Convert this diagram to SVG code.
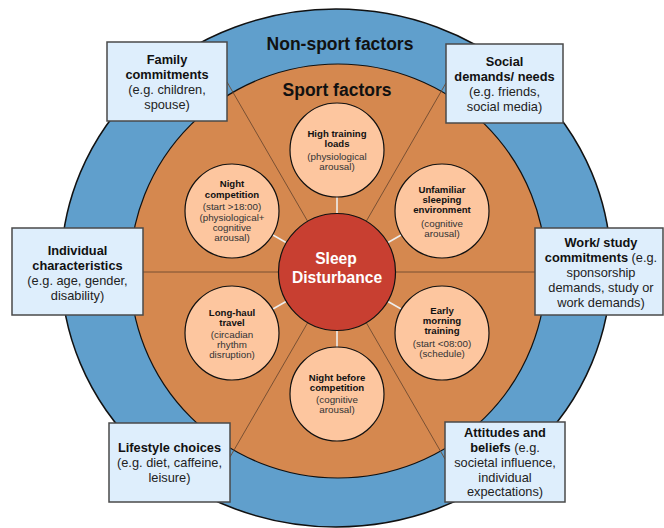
<svg xmlns="http://www.w3.org/2000/svg" width="664" height="528" viewBox="0 0 664 528">
<style>
text{font-family:"Liberation Sans",Arial,sans-serif;text-anchor:middle}
.ring-title{font-size:17.5px;font-weight:bold;fill:#111}
.bx{fill:#deeefc;stroke:#4a4a4a;stroke-width:1.5}
.bb{font-size:12.8px;font-weight:bold;fill:#111}
.br{font-size:12.8px;fill:#222}
.sc{fill:#fdc69f;stroke:#111;stroke-width:1.2}
.sb{font-size:9.6px;font-weight:bold;fill:#111}
.sr{font-size:9.8px;fill:#333}
.div{stroke:#6e4a30;stroke-width:0.9;fill:none}
.lk{stroke:#eeeeee;stroke-width:1.6}
</style>
<g id="rings">
<ellipse cx="336" cy="268" rx="275" ry="259" fill="#609fcc" stroke="#111" stroke-width="1.5"/>
<ellipse cx="338" cy="271" rx="208" ry="207" fill="#d5884f" stroke="#111" stroke-width="1.2"/>
<text class="ring-title" x="340" y="50">Non-sport factors</text>
<text class="ring-title" x="337" y="96">Sport factors</text>
</g>
<g id="connectors">
<line class="div" x1="337" y1="272" x2="143" y2="272"/>
<line class="div" x1="337" y1="272" x2="535" y2="272"/>
<line class="div" x1="337" y1="272" x2="227" y2="82"/>
<line class="div" x1="337" y1="272" x2="446" y2="83"/>
<line class="div" x1="337" y1="272" x2="230" y2="457"/>
<line class="div" x1="337" y1="272" x2="445" y2="459"/>
<line class="lk" x1="337" y1="213" x2="337" y2="197"/>
<line class="lk" x1="388" y1="242.5" x2="402" y2="234.5"/>
<line class="lk" x1="388" y1="301.5" x2="402" y2="309.5"/>
<line class="lk" x1="337" y1="331" x2="337" y2="347"/>
<line class="lk" x1="286" y1="301.5" x2="272" y2="309.5"/>
<line class="lk" x1="286" y1="242.5" x2="272" y2="234.5"/>
</g>
<g id="high-training">
<circle class="sc" cx="337" cy="150" r="47"/>
<text class="sb" x="337" y="137">High training</text>
<text class="sb" x="337" y="147">loads</text>
<text class="sr" x="337" y="160">(physiological</text>
<text class="sr" x="337" y="170">arousal)</text>
</g>
<g id="unfamiliar">
<circle class="sc" cx="442" cy="211" r="47"/>
<text class="sb" x="442" y="193">Unfamiliar</text>
<text class="sb" x="442" y="203">sleeping</text>
<text class="sb" x="442" y="213">environment</text>
<text class="sr" x="442" y="227">(cognitive</text>
<text class="sr" x="442" y="237">arousal)</text>
</g>
<g id="early-morning">
<circle class="sc" cx="442" cy="333" r="47"/>
<text class="sb" x="442" y="314">Early</text>
<text class="sb" x="442" y="324">morning</text>
<text class="sb" x="442" y="334">training</text>
<text class="sr" x="442" y="347">(start &lt;08:00)</text>
<text class="sr" x="442" y="357">(schedule)</text>
</g>
<g id="night-before">
<circle class="sc" cx="337" cy="394" r="47"/>
<text class="sb" x="337" y="381">Night before</text>
<text class="sb" x="337" y="391">competition</text>
<text class="sr" x="337" y="403">(cognitive</text>
<text class="sr" x="337" y="413">arousal)</text>
</g>
<g id="long-haul">
<circle class="sc" cx="232" cy="333" r="47"/>
<text class="sb" x="232" y="316">Long-haul</text>
<text class="sb" x="232" y="326">travel</text>
<text class="sr" x="232" y="338">(circadian</text>
<text class="sr" x="232" y="348">rhythm</text>
<text class="sr" x="232" y="358">disruption)</text>
</g>
<g id="night-competition">
<circle class="sc" cx="232" cy="211" r="47"/>
<text class="sb" x="232" y="187">Night</text>
<text class="sb" x="232" y="198">competition</text>
<text class="sr" x="232" y="210">(start &gt;18:00)</text>
<text class="sr" x="232" y="221">(physiological+</text>
<text class="sr" x="232" y="231">cognitive</text>
<text class="sr" x="232" y="241">arousal)</text>
</g>
<g id="sleep-disturbance">
<circle cx="337" cy="272" r="58.5" fill="#c83f31" stroke="#111" stroke-width="1.2"/>
<text x="336" y="264" style="font-size:15.6px;font-weight:bold;fill:#fff">Sleep</text>
<text x="337" y="283" style="font-size:15.6px;font-weight:bold;fill:#fff">Disturbance</text>
</g>
<g id="family">
<rect class="bx" x="107" y="42" width="120" height="79"/>
<text class="bb" x="167" y="64">Family</text>
<text class="bb" x="167" y="79">commitments</text>
<text class="br" x="167" y="94">(e.g. children,</text>
<text class="br" x="167" y="109">spouse)</text>
</g>
<g id="social">
<rect class="bx" x="446" y="44" width="117" height="79"/>
<text class="bb" x="504.5" y="66">Social</text>
<text class="bb" x="504.5" y="81">demands/ needs</text>
<text class="br" x="504.5" y="96">(e.g. friends,</text>
<text class="br" x="504.5" y="111">social media)</text>
</g>
<g id="individual">
<rect class="bx" x="12" y="228" width="131" height="87"/>
<text class="bb" x="77.5" y="255">Individual</text>
<text class="bb" x="77.5" y="270">characteristics</text>
<text class="br" x="77.5" y="285">(e.g. age, gender,</text>
<text class="br" x="77.5" y="300">disability)</text>
</g>
<g id="work">
<rect class="bx" x="535" y="228" width="128" height="87"/>
<text class="bb" x="601" y="247">Work/ study</text>
<text x="601" y="262"><tspan class="bb">commitments</tspan><tspan class="br"> (e.g.</tspan></text>
<text class="br" x="601" y="277">sponsorship</text>
<text class="br" x="601" y="292">demands, study or</text>
<text class="br" x="601" y="307">work demands)</text>
</g>
<g id="lifestyle">
<rect class="bx" x="109" y="423" width="121" height="79"/>
<text class="bb" x="169.5" y="452">Lifestyle choices</text>
<text class="br" x="169.5" y="467">(e.g. diet, caffeine,</text>
<text class="br" x="169.5" y="482">leisure)</text>
</g>
<g id="attitudes">
<rect class="bx" x="445" y="422" width="120" height="80"/>
<text class="bb" x="505" y="437">Attitudes and</text>
<text x="505" y="452"><tspan class="bb">beliefs</tspan><tspan class="br"> (e.g.</tspan></text>
<text class="br" x="505" y="467">societal influence,</text>
<text class="br" x="505" y="482">individual</text>
<text class="br" x="505" y="496">expectations)</text>
</g>
</svg>
